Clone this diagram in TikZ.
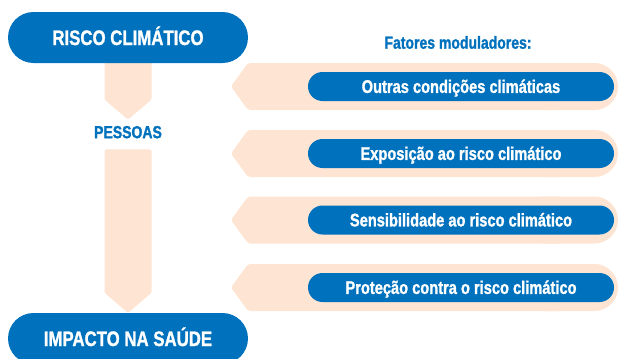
\documentclass[tikz,border=0pt]{standalone}
\usepackage{fontspec}
\setmainfont[FakeStretch=0.80,BoldFeatures={FakeBold=1.2}]{Liberation Sans}
\usetikzlibrary{calc,shapes.misc,backgrounds}
\definecolor{riskblue}{HTML}{0071BC}
\definecolor{peach}{HTML}{FDE4D3}
\tikzset{
  bigpill/.style={rounded rectangle,fill=riskblue,text=white,inner sep=0pt,
    minimum width=240pt,minimum height=51pt,text height=15pt,text depth=0pt,
    font=\fontsize{21}{25}\selectfont\bfseries},
  factorpill/.style={rounded rectangle,fill=riskblue,text=white,inner sep=0pt,
    minimum width=306pt,minimum height=29pt,text height=12.8pt,text depth=0pt,
    font=\fontsize{18.3}{22}\selectfont\bfseries},
  bluetext/.style={text=riskblue,inner sep=0pt,text height=12.4pt,text depth=0pt,
    font=\fontsize{17.5}{21}\selectfont\bfseries}
}
\newcommand{\blockdown}[2]{\fill[peach,rounded corners=1.5pt] let \p1=(#1), \p2=(#2) in
  (\x2-23.5pt,\y1) -- (\x2+23.5pt,\y1) -- (\x2+23.5pt,\y2+20pt) -- (\x2,\y2) -- (\x2-23.5pt,\y2+20pt) -- cycle;}
\newcommand{\factorback}[1]{%
  \fill[peach,rounded corners=2pt] let \p1=(#1.center) in
    (\x1-213pt,\y1+23.5pt) -- (\x1-230pt,\y1) -- (\x1-213pt,\y1-23.5pt) -- (\x1+100pt,\y1-23.5pt) -- (\x1+100pt,\y1+23.5pt) -- cycle;
  \fill[peach,rounded corners=23.5pt] let \p1=(#1.center) in
    (\x1+60pt,\y1-23.5pt) rectangle (\x1+157pt,\y1+23.5pt);}

\begin{document}
\begin{tikzpicture}[x=1pt,y=-1pt]
  \useasboundingbox (0,0) rectangle (622,359);
  % left column
  \node[bigpill] (risco) at (128,37.5) {RISCO CLIMÁTICO};
  \node[bluetext] (pessoas) at (128,132) {PESSOAS};
  \node[bigpill] (impacto) at (128,338.5) {IMPACTO NA SAÚDE};
  \coordinate (tip1) at ($(pessoas.north)+(0,-6)$);
  \coordinate (top2) at ($(pessoas.south)+(0,11)$);
  % right column
  \node[bluetext] (fatores) at (458,42.5) {Fatores moduladores:};
  \node[factorpill] (f1) at (461,86.5) {Outras condições climáticas};
  \node[factorpill] (f2) at (461,153.5) {Exposição ao risco climático};
  \node[factorpill] (f3) at (461,220) {Sensibilidade ao risco climático};
  \node[factorpill] (f4) at (461,287.5) {Proteção contra o risco climático};
  \begin{scope}[on background layer]
    \blockdown{risco.center}{tip1}
    \blockdown{top2}{impacto.north}
    \factorback{f1}\factorback{f2}\factorback{f3}\factorback{f4}
  \end{scope}
\end{tikzpicture}
\end{document}
